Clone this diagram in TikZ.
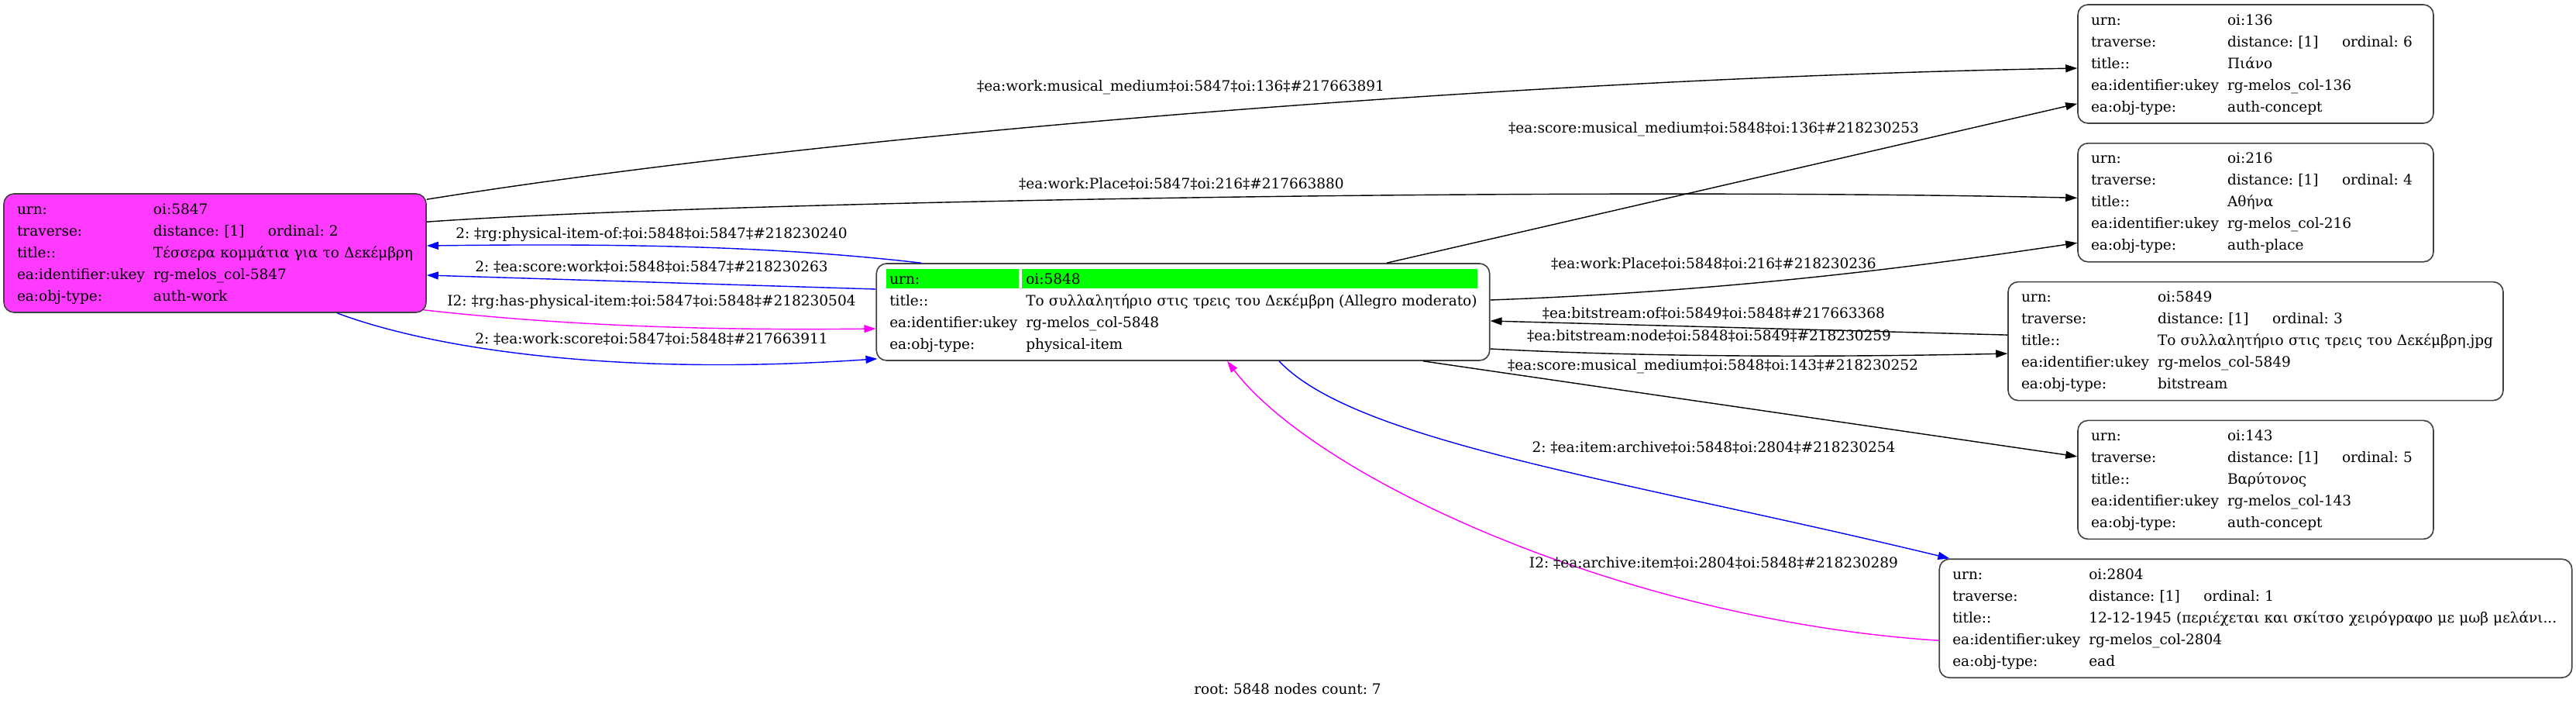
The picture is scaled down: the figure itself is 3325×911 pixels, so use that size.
\documentclass[tikz,border=0pt]{standalone}
\usepackage{fontspec}
\setmainfont{DejaVu Serif}
\usetikzlibrary{arrows.meta,positioning,calc,backgrounds}
\frenchspacing

\definecolor{workpink}{HTML}{FF3AFF}
\definecolor{urngreen}{HTML}{00FF00}
\definecolor{relblue}{RGB}{0,0,255}
\definecolor{relpink}{RGB}{255,0,255}

\newcommand{\objtable}[4]{\begin{tabular}{@{}p{176pt}@{}l@{}}
urn: & oi:#1\\
traverse: & \makebox[148pt][l]{distance: [1]}ordinal: #2\\
title:: & #3\\
ea:identifier:ukey & rg-melos\_col-#1\\
ea:obj-type: & #4
\end{tabular}}

\tikzset{
objbox/.style={draw=black!75,line width=1.6pt,rounded corners=13pt,inner xsep=17pt,inner ysep=6.5pt,align=left,font=\fontsize{18.5pt}{28pt}\selectfont},
rel/.style={line width=1.4pt,-{Triangle[length=15pt,width=10pt]}},
rellabel/.style={font=\fontsize{18.5pt}{22pt}\selectfont,inner sep=0pt}
}

\begin{document}
\begin{tikzpicture}[x=1pt,y=-1pt]
\useasboundingbox (0,0) rectangle (3325,911);

\node[objbox,fill=workpink,text width=511pt] (n5847) at (277.5,326.5) {\objtable{5847}{2}{Τέσσερα κομμάτια για το Δεκέμβρη}{auth-work}};
\node[objbox,text width=757.5pt] (n5848) at (1527,402.5) {\begin{tabular}{@{}p{176pt}@{}l@{}}
urn: & oi:5848\\
title:: & Το συλλαλητήριο στις τρεις του Δεκέμβρη (Allegro moderato)\\
ea:identifier:ukey & rg-melos\_col-5848\\
ea:obj-type: & physical-item
\end{tabular}};
\begin{scope}[on background layer]
\fill[urngreen] ($(n5848.north west)+(14,8)$) rectangle ++(171,25);
\fill[urngreen] ($(n5848.north west)+(189,8)$) rectangle ++(588,25);
\end{scope}

\node[objbox,text width=425pt] (n136) at (2911.5,82.5) {\objtable{136}{6}{Πιάνο}{auth-concept}};
\node[objbox,text width=425pt,below=24.2pt of n136] (n216) {\objtable{216}{4}{Αθήνα}{auth-place}};
\node[objbox,text width=605pt,below=24.2pt of n216] (n5849) {\objtable{5849}{3}{Το συλλαλητήριο στις τρεις του Δεκέμβρη.jpg}{bitstream}};
\node[objbox,text width=425pt,below=24.2pt of n5849] (n143) {\objtable{143}{5}{Βαρύτονος}{auth-concept}};
\node[objbox,text width=782.5pt,below=24.2pt of n143] (n2804) {\objtable{2804}{1}{12-12-1945 (περιέχεται και σκίτσο χειρόγραφο με μωβ μελάνι...}{ead}};

\draw[rel] ($(n5847.north east)+(0,8)$) .. controls +(550,-88) and +(-682,12) .. ($(n136.west)+(0,5.5)$);
\draw[rel] ($(n5847.north east)+(0,37)$) .. controls +(350,-25) and +(-682,-15) .. ($(n216.west)+(0,-6)$);
\draw[rel] ($(n5848.north)+(263,0)$) -- ($(n136.south west)+(0,-26)$);
\draw[rel] ($(n5848.east)+(0,-15.5)$) .. controls +(327,-12) and +(-182,27) .. ($(n216.west)+(0,52)$);
\draw[rel] ($(n5849.west)+(0,-8)$) -- ($(n5848.east)+(0,11.5)$);
\draw[rel] ($(n5848.east)+(0,47.5)$) .. controls +(227,12) and +(-192,4) .. ($(n5849.west)+(0,16)$);
\draw[rel] ($(n5848.south)+(310,0)$) -- ($(n143.west)+(0,-30)$);
\draw[rel,relblue] ($(n5848.south)+(124,0)$) .. controls +(99,105) and +(-418,-101) .. ($(n2804.north west)+(14,0)$);
\draw[rel,relpink] ($(n2804.west)+(0,28.5)$) .. controls +(-404,-26) and +(116,152) .. ($(n5848.south)+(57,0)$);
\draw[rel,relblue] ($(n5848.north west)+(58.5,0)$) .. controls +(-190,-22) and +(250,-3) .. ($(n5847.east)+(0,-9.5)$);
\draw[rel,relblue] ($(n5848.west)+(0,-29.5)$) -- ($(n5847.east)+(0,28.5)$);
\draw[rel,relpink] ($(n5847.south east)+(-4,-4)$) .. controls +(204,23) and +(-181,2) .. ($(n5848.west)+(0,21.5)$);
\draw[rel,relblue] ($(n5847.south)+(157.5,0)$) .. controls +(125,47) and +(-333,23) .. ($(n5848.south west)+(2,-3)$);

\node[rellabel] (l136a) at (1524,113) {‡ea:work:musical\_medium‡oi:5847‡oi:136‡\#217663891};
\node[rellabel] (l216a) at (1525,237) {‡ea:work:Place‡oi:5847‡oi:216‡\#217663880};
\node[rellabel] (l136b) at (2212,167) {‡ea:score:musical\_medium‡oi:5848‡oi:136‡\#218230253};
\node[rellabel] (l216b) at (2212,340) {‡ea:work:Place‡oi:5848‡oi:216‡\#218230236};
\node[rellabel] (l5849a) at (2212,404) {‡ea:bitstream:of‡oi:5849‡oi:5848‡\#217663368};
\node[rellabel] (l5849b) at (2206,433) {‡ea:bitstream:node‡oi:5848‡oi:5849‡\#218230259};
\node[rellabel] (l143) at (2211,473) {‡ea:score:musical\_medium‡oi:5848‡oi:143‡\#218230252};
\node[rellabel] (l2804a) at (2212,577) {2: ‡ea:item:archive‡oi:5848‡oi:2804‡\#218230254};
\node[rellabel] (l2804b) at (2212,726) {I2: ‡ea:archive:item‡oi:2804‡oi:5848‡\#218230289};
\node[rellabel] (l5847a) at (841,303) {2: ‡rg:physical-item-of:‡oi:5848‡oi:5847‡\#218230240};
\node[rellabel] (l5847b) at (841,344) {2: ‡ea:score:work‡oi:5848‡oi:5847‡\#218230263};
\node[rellabel] (l5847c) at (841,390) {I2: ‡rg:has-physical-item:‡oi:5847‡oi:5848‡\#218230504};
\node[rellabel] (l5847d) at (841,437) {2: ‡ea:work:score‡oi:5847‡oi:5848‡\#217663911};

\node[rellabel] (root) at (1662,889) {root: 5848 nodes count: 7};
\end{tikzpicture}
\end{document}
